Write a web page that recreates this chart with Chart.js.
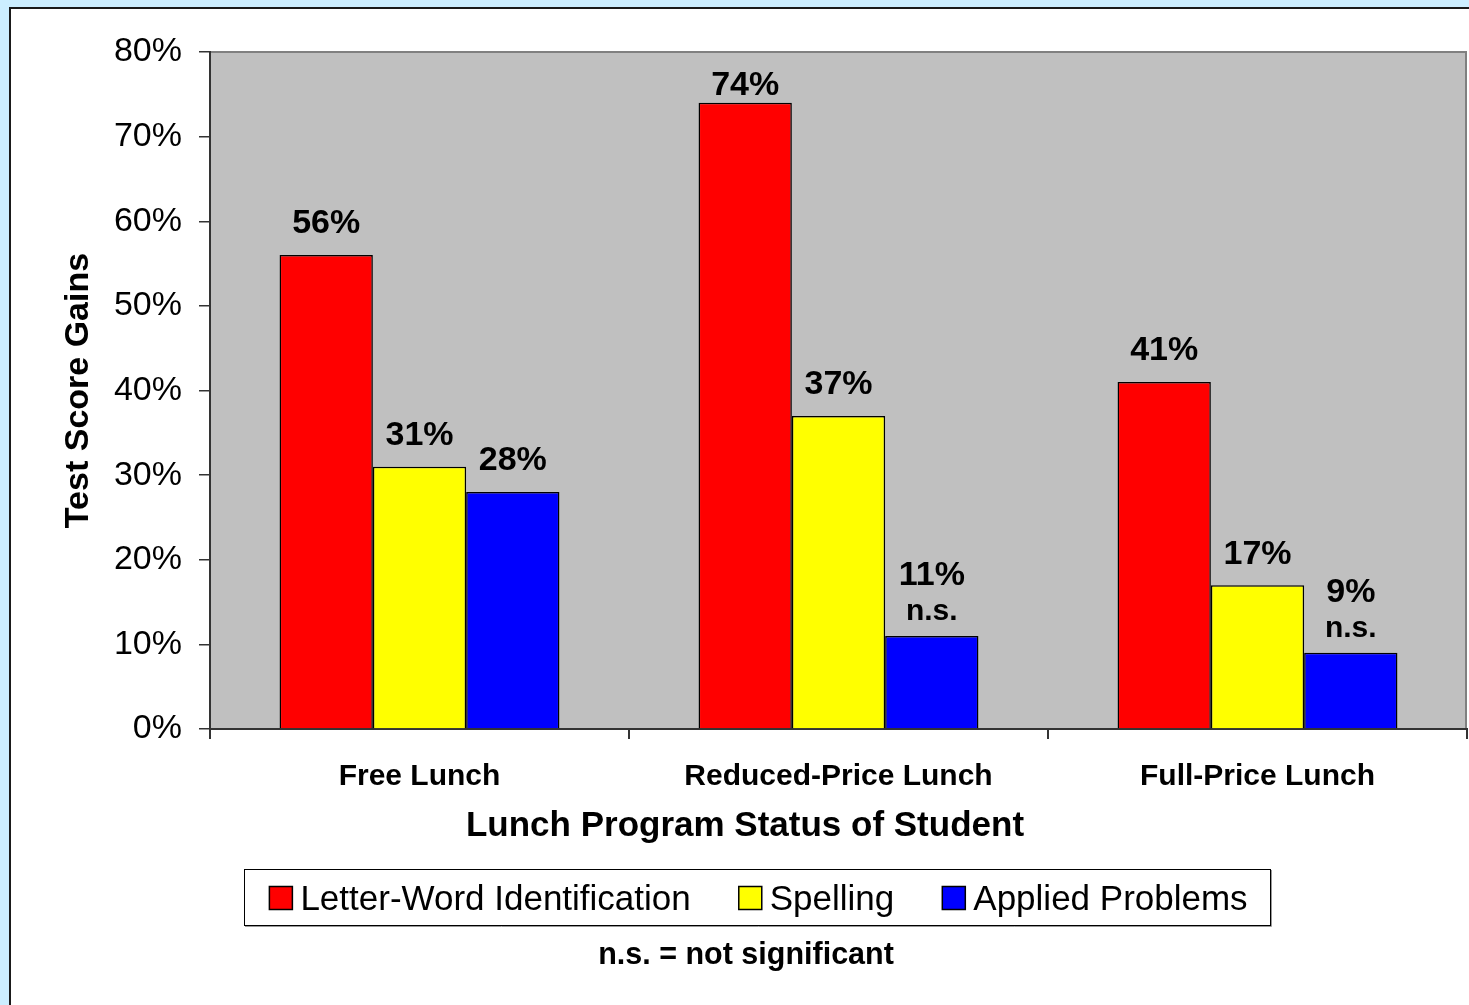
<!DOCTYPE html>
<html>
<head>
<meta charset="utf-8">
<script src="https://cdn.jsdelivr.net/npm/chart.js@4/dist/chart.umd.min.js"></script>
<style>
  html, body { margin: 0; padding: 0; background: #cceeff; }
  #wrap { position: absolute; left: 0; top: 0; width: 1469px; height: 1005px; }
</style>
</head>
<body>
<div id="wrap"><canvas id="c" width="1469" height="1005"></canvas></div>
<script>
const categories = ['Free Lunch', 'Reduced-Price Lunch', 'Full-Price Lunch'];
const letterWord = [56, 74, 41];
const spelling = [31, 37, 17];
const appliedProblems = [28, 11, 9];
const letterWordNotes = ['', '', ''];
const spellingNotes = ['', '', ''];
const appliedNotes = ['', 'n.s.', 'n.s.'];
const seriesNames = ['Letter-Word Identification', 'Spelling', 'Applied Problems'];
const yTicks = [0, 10, 20, 30, 40, 50, 60, 70, 80];
const xTitle = 'Lunch Program Status of Student';
const yTitle = 'Test Score Gains';
const footnote = 'n.s. = not significant';

const FONT = '"Liberation Sans", Arial, Helvetica, sans-serif';

const bgPlugin = {
  id: 'bg',
  beforeDraw(chart) {
    const ctx = chart.ctx;
    ctx.save();
    ctx.fillStyle = '#cceeff';
    ctx.fillRect(0, 0, chart.width, chart.height);
    ctx.fillStyle = '#ffffff';
    ctx.fillRect(10, 8, chart.width - 10, chart.height - 8);
    ctx.strokeStyle = '#1a1a1a';
    ctx.lineWidth = 2;
    ctx.beginPath();
    ctx.moveTo(10, chart.height);
    ctx.lineTo(10, 8);
    ctx.lineTo(chart.width, 8);
    ctx.stroke();
    const a = chart.chartArea;
    ctx.fillStyle = '#c0c0c0';
    ctx.fillRect(a.left, a.top, a.right - a.left, a.bottom - a.top);
    ctx.strokeStyle = '#808080';
    ctx.lineWidth = 2;
    ctx.beginPath();
    ctx.moveTo(a.left, a.top);
    ctx.lineTo(a.right - 1, a.top);
    ctx.lineTo(a.right - 1, a.bottom);
    ctx.stroke();
    ctx.restore();
  }
};

const notesBySeries = [letterWordNotes, spellingNotes, appliedNotes];

const labelPlugin = {
  id: 'vlabels',
  afterDatasetsDraw(chart) {
    const ctx = chart.ctx;
    const a = chart.chartArea;
    ctx.save();
    ctx.fillStyle = '#000';
    ctx.textAlign = 'center';
    ctx.textBaseline = 'middle';
    chart.data.datasets.forEach((ds, i) => {
      const meta = chart.getDatasetMeta(i);
      meta.data.forEach((el, j) => {
        const note = notesBySeries[i][j];
        const txt = ds.data[j] + '%';
        if (note) {
          ctx.font = 'bold 30px ' + FONT;
          ctx.fillText(note, el.x, el.y - 24);
          ctx.font = 'bold 34px ' + FONT;
          ctx.fillText(txt, el.x, el.y - 60);
        } else {
          ctx.font = 'bold 34px ' + FONT;
          const y = Math.max(el.y - 31, a.top + 34);
          ctx.fillText(txt, el.x, y);
        }
      });
    });
    ctx.restore();
  }
};

const legendPlugin = {
  id: 'customLegend',
  afterDraw(chart) {
    const ctx = chart.ctx;
    ctx.save();
    // x-axis title
    ctx.fillStyle = '#000';
    ctx.font = 'bold 35px ' + FONT;
    ctx.textAlign = 'center';
    ctx.textBaseline = 'middle';
    ctx.fillText(xTitle, 745, 826);

    const sq = 23, gapText = 8, gapItem = 48;
    ctx.font = '35px ' + FONT;
    const items = chart.data.datasets.map(ds => ({
      label: ds.label, color: ds.backgroundColor, w: ctx.measureText(ds.label).width
    }));
    let total = 0;
    items.forEach((it, k) => { total += sq + gapText + it.w + (k < items.length - 1 ? gapItem : 0); });
    const cx = 758.5;
    let x = cx - total / 2;
    const boxL = 244, boxR = 1270, boxT = 869, boxB = 925;
    ctx.strokeStyle = '#999';
    ctx.lineWidth = 1;
    ctx.beginPath();
    ctx.moveTo(boxL + 1, boxB + 1.5);
    ctx.lineTo(boxR + 1.5, boxB + 1.5);
    ctx.lineTo(boxR + 1.5, boxT + 1);
    ctx.stroke();
    ctx.strokeStyle = '#000';
    ctx.strokeRect(boxL + 0.5, boxT + 0.5, boxR - boxL, boxB - boxT);
    const cy = 898;
    ctx.textBaseline = 'middle';
    ctx.textAlign = 'left';
    items.forEach(it => {
      ctx.fillStyle = it.color;
      ctx.fillRect(x, cy - sq / 2, sq, sq);
      ctx.strokeStyle = '#000';
      ctx.lineWidth = 1.5;
      ctx.strokeRect(x, cy - sq / 2, sq, sq);
      ctx.fillStyle = '#000';
      ctx.fillText(it.label, x + sq + gapText, cy + 2);
      x += sq + gapText + it.w + gapItem;
    });
    ctx.font = 'bold 30.5px ' + FONT;
    ctx.textAlign = 'center';
    ctx.fillText(footnote, 746, 956);
    ctx.restore();
  }
};

new Chart(document.getElementById('c'), {
  type: 'bar',
  data: {
    labels: categories,
    datasets: [
      { label: seriesNames[0], data: letterWord, backgroundColor: '#ff0000' },
      { label: seriesNames[1], data: spelling, backgroundColor: '#ffff00' },
      { label: seriesNames[2], data: appliedProblems, backgroundColor: '#0000ff' }
    ].map(d => Object.assign(d, { borderColor: '#000', borderWidth: 1.5, categoryPercentage: 0.668, barPercentage: 1.0 }))
  },
  options: {
    responsive: false,
    animation: false,
    devicePixelRatio: 1,
    layout: { padding: { left: 10, top: 52, right: 2, bottom: 0 } },
    plugins: { legend: { display: false }, tooltip: { enabled: false } },
    scales: {
      x: {
        afterFit(s) { s.height = 276; },
        grid: { offset: true, drawOnChartArea: false, drawTicks: true, tickLength: 10, color: '#333', lineWidth: 2 },
        border: { display: true, color: '#333', width: 2 },
        ticks: { color: '#000', font: { family: FONT, size: 30, weight: 'bold' }, padding: 20, maxRotation: 0 },
        title: { display: false }
      },
      y: {
        min: 0, max: 80,
        afterFit(s) { s.width = 200; },
        afterBuildTicks(s) { s.ticks = yTicks.map(v => ({ value: v })); },
        grid: { drawOnChartArea: false, drawTicks: true, tickLength: 11, color: '#333', lineWidth: 1.5 },
        border: { display: true, color: '#333', width: 2 },
        ticks: { color: '#000', font: { family: FONT, size: 34 }, padding: 17, callback: v => v + '%' },
        title: { display: true, text: yTitle, color: '#000', font: { family: FONT, size: 34, weight: 'bold' }, padding: { top: 48, bottom: 0 } }
      }
    }
  },
  plugins: [bgPlugin, labelPlugin, legendPlugin]
});
</script>
</body>
</html>
